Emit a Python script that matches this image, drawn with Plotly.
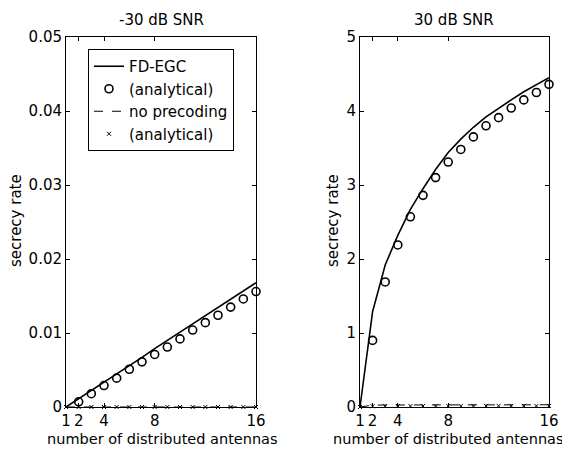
import plotly.graph_objects as go

antennas = list(range(1, 17))
ana_antennas = list(range(2, 17))

# -30 dB SNR
low_fdegc = [0, 0.0011, 0.0023, 0.0034, 0.0045, 0.0056, 0.0067, 0.0079, 0.0090,
             0.0101, 0.0112, 0.0123, 0.0135, 0.0146, 0.0157, 0.0168]
low_fdegc_ana = [0.0007, 0.0018, 0.0029, 0.0039, 0.0051, 0.0061, 0.0071, 0.0081,
                 0.0092, 0.0104, 0.0114, 0.0124, 0.0135, 0.0146, 0.0156]
low_nopre = [0.0] * 16
low_nopre_ana = [0.0] * 16

# 30 dB SNR
high_fdegc = [0, 1.29, 1.92, 2.32, 2.67, 2.95, 3.21, 3.44, 3.62, 3.78, 3.92,
              4.04, 4.15, 4.26, 4.36, 4.45]
high_fdegc_ana = [0.90, 1.69, 2.19, 2.57, 2.86, 3.10, 3.31, 3.48, 3.65, 3.80,
                  3.91, 4.04, 4.15, 4.25, 4.36]
high_nopre = [0, 0.025, 0.027, 0.028, 0.028, 0.029, 0.029, 0.029, 0.029, 0.03,
              0.03, 0.03, 0.03, 0.03, 0.03, 0.03]
high_nopre_ana = [0, 0.01, 0.012, 0.013, 0.013, 0.014, 0.014, 0.014, 0.014,
                  0.014, 0.015, 0.015, 0.015, 0.015, 0.015, 0.015]

x_ticks = [1, 2, 4, 8, 16]

FONT = "DejaVu Sans, Arial, sans-serif"
FS = 15

# the page body adds an 8px margin; lay out in window pixels
OFF = 8
W, H = 570 - OFF, 449 - OFF


def px(x):
    return (x - OFF) / W


def py(y):
    return 1 - (y - OFF) / H


fig = go.Figure()


def add_set(xa, ya, fdegc, fdegc_ana, nopre, nopre_ana, show):
    fig.add_trace(go.Scatter(x=antennas, y=fdegc, mode="lines", name="FD-EGC",
                             line=dict(color="black", width=1.6),
                             xaxis=xa, yaxis=ya, showlegend=show, cliponaxis=False))
    fig.add_trace(go.Scatter(x=ana_antennas, y=fdegc_ana, mode="markers", name="(analytical)",
                             marker=dict(symbol="circle-open", size=8, color="black",
                                         line=dict(width=1.6, color="black")),
                             xaxis=xa, yaxis=ya, showlegend=show, cliponaxis=False))
    fig.add_trace(go.Scatter(x=antennas, y=nopre, mode="lines", name="no precoding",
                             line=dict(color="black", width=1, dash="dash"),
                             xaxis=xa, yaxis=ya, showlegend=show, cliponaxis=False))
    fig.add_trace(go.Scatter(x=antennas, y=nopre_ana, mode="markers", name="(analytical)",
                             marker=dict(symbol="x-thin-open", size=4, color="black",
                                         line=dict(width=1, color="black")),
                             xaxis=xa, yaxis=ya, showlegend=show, cliponaxis=False))


add_set("x", "y", low_fdegc, low_fdegc_ana, low_nopre, low_nopre_ana, True)
add_set("x2", "y2", high_fdegc, high_fdegc_ana, high_nopre, high_nopre_ana, False)

axis_common = dict(showline=True, linecolor="black", linewidth=1, mirror="ticks",
                   ticks="inside", ticklen=4, tickcolor="black", showgrid=False,
                   zeroline=False, automargin=False,
                   tickfont=dict(family=FONT, size=FS, color="black"))

ydom = [py(407), py(37)]


def ann(text, x, y, angle=0, size=FS):
    return dict(text=text, x=px(x), y=py(y), xref="paper", yref="paper",
                xanchor="center", yanchor="middle", showarrow=False, textangle=angle,
                font=dict(family=FONT, size=size, color="black"))


fig.update_layout(
    template="none",
    width=W, height=H,
    margin=dict(l=0, r=0, t=0, b=0, pad=0),
    paper_bgcolor="white", plot_bgcolor="white",
    showlegend=True,
    font=dict(family=FONT, size=FS, color="black"),
    xaxis=dict(domain=[px(66), px(256)], range=[1, 16], tickvals=x_ticks,
               anchor="y", **axis_common),
    yaxis=dict(domain=ydom, range=[0, 0.05], tickvals=[0, 0.01, 0.02, 0.03, 0.04, 0.05],
               ticktext=["0", "0.01", "0.02", "0.03", "0.04", "0.05"],
               anchor="x", **axis_common),
    xaxis2=dict(domain=[px(360), px(549)], range=[1, 16], tickvals=x_ticks,
                anchor="y2", **axis_common),
    yaxis2=dict(domain=ydom, range=[0, 5], tickvals=[0, 1, 2, 3, 4, 5],
                anchor="x2", **axis_common),
    legend=dict(x=px(88), y=py(49), xanchor="left", yanchor="top",
                bordercolor="black", borderwidth=1, bgcolor="white",
                font=dict(family=FONT, size=FS, color="black"),
                tracegroupgap=0, itemwidth=30),
    annotations=[
        ann("-30 dB SNR", 161, 20),
        ann("30 dB SNR", 454, 20),
        ann("number of distributed antennas", 162, 439, size=14.5),
        ann("number of distributed antennas", 448, 439, size=14.5),
        ann("secrecy rate", 16, 221, -90),
        ann("secrecy rate", 333, 221, -90),
    ],
)

fig.write_html("out.html")
